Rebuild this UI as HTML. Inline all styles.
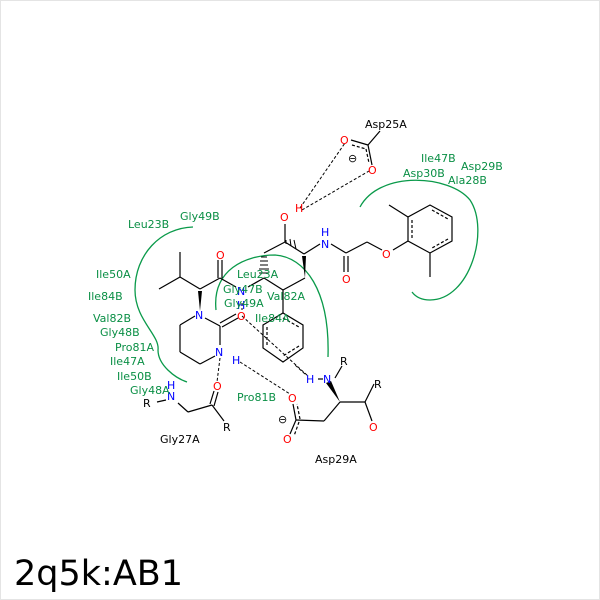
<!DOCTYPE html>
<html><head><meta charset="utf-8"><style>
body{margin:0;background:#fff}
svg{display:block}
text{font-family:"DejaVu Sans","Liberation Sans",sans-serif;font-size:11px}
.g{fill:#0a8f45}
.k{fill:#000}
.b{fill:#0000ff}
.r{fill:#ff0000}
</style></head><body>
<svg width="600" height="600" viewBox="0 0 600 600">
<rect x="0.5" y="0.5" width="599" height="599" fill="#fff" stroke="#e4e4e4"/>
<g fill="none" stroke="#0a9a4a" stroke-width="1.3">
<path d="M193,227 C160,228 135,255 135,290 C135,320 160,335 158,350 C158,365 175,378 187,382"/>
<path d="M216,310 C212,270 245,255 275,255 C305,257 330,290 328,357"/>
<path d="M360,207 C380,170 450,175 470,200 C490,230 470,300 430,300 C420,300 415,296 412,292"/>
</g>
<g stroke="#000" stroke-width="1.2" fill="none">
<line x1="380" y1="131" x2="368" y2="145"/>
<line x1="368" y1="145" x2="351" y2="140"/>
<line x1="368" y1="145" x2="372" y2="165"/>
<path d="M352,145 L366,149 M366,149 L369,163" stroke-dasharray="3,2"/>
<line x1="285" y1="224" x2="285" y2="242"/>
<line x1="285" y1="242" x2="264" y2="253"/>
<line x1="285" y1="242" x2="304" y2="254"/>
<line x1="304" y1="254" x2="320" y2="244"/>
<line x1="331" y1="244" x2="346" y2="253"/>
<line x1="344" y1="256" x2="344" y2="272"/><line x1="348" y1="256" x2="348" y2="272"/>
<line x1="346" y1="253" x2="367" y2="242"/>
<line x1="367" y1="242" x2="382" y2="250"/>
<line x1="393" y1="250" x2="408" y2="241"/>
<polygon points="408,241 408,217 430,205 452,217 452,241 430,253"/>
<path d="M412,238 L412,219 M432,210 L448,219 M448,239 L432,248" stroke-dasharray="3,2"/>
<line x1="408" y1="217" x2="389" y2="205"/>
<line x1="430" y1="253" x2="430" y2="277"/>
<line x1="180" y1="252" x2="180" y2="277"/>
<line x1="180" y1="277" x2="159" y2="289"/>
<line x1="180" y1="277" x2="200" y2="289"/>
<line x1="200" y1="289" x2="220" y2="278"/>
<line x1="218" y1="260" x2="218" y2="278"/><line x1="222" y1="260" x2="222" y2="278"/>
<line x1="220" y1="278" x2="236" y2="287"/>
<line x1="248" y1="287" x2="264" y2="278"/>
<line x1="264" y1="278" x2="283" y2="290"/>
<line x1="283" y1="290" x2="305" y2="278"/>
<line x1="283" y1="290" x2="283" y2="313"/>
<polygon points="263,325 283,313 303,325 303,348 283,362 263,348"/>
<path d="M267,327 L267,346 M283,318 L299,327 M299,346 L283,356" stroke-dasharray="3,2"/>
<line x1="205" y1="318" x2="220" y2="326"/>
<line x1="220" y1="323" x2="236" y2="314"/><line x1="222" y1="327" x2="238" y2="318"/>
<line x1="220" y1="326" x2="220" y2="345"/>
<line x1="215" y1="356" x2="200" y2="364"/>
<line x1="200" y1="364" x2="180" y2="352"/>
<line x1="180" y1="352" x2="180" y2="325"/>
<line x1="180" y1="325" x2="195" y2="316"/>
<line x1="157" y1="402" x2="166" y2="400"/>
<line x1="178" y1="403" x2="188" y2="412"/>
<line x1="188" y1="412" x2="212" y2="405"/>
<line x1="210" y1="404" x2="214" y2="391"/><line x1="214" y1="406" x2="218" y2="392"/>
<line x1="212" y1="405" x2="224" y2="421"/>
<line x1="296" y1="420" x2="324" y2="421"/>
<line x1="324" y1="421" x2="340" y2="402"/>
<line x1="340" y1="402" x2="365" y2="402"/>
<line x1="365" y1="402" x2="374" y2="384"/>
<line x1="365" y1="402" x2="372" y2="421"/>
<line x1="335" y1="378" x2="342" y2="366"/>
<path d="M296,420 L293,404 M296,420 L290,434" />
<path d="M300,419 L297,404 M299,422 L294,436" stroke-dasharray="3,2"/>
<path d="M300,208 L345,143 M302,210 L369,171 M242,316 L308,376 M220,358 L217,382 M240,362 L290,394 M242,303 L242,310 M305,374 L295,365" stroke-dasharray="3,2" stroke-width="1"/>
<line x1="318" y1="379" x2="323" y2="379"/>
</g>
<g fill="#000">
<polygon points="305,278 302,256 306,256"/>
<polygon points="200,311 198,291 202,291"/>
<polygon points="340,402 326,383 331,381"/>
</g>
<g stroke="#000" stroke-width="1">
<line x1="261" y1="257" x2="267" y2="257"/><line x1="260" y1="261" x2="268" y2="261"/><line x1="260" y1="265" x2="268" y2="265"/><line x1="259" y1="269" x2="269" y2="269"/><line x1="259" y1="273" x2="269" y2="273"/>
<line x1="286" y1="240" x2="286" y2="244"/><line x1="290" y1="239" x2="291" y2="246"/><line x1="294" y1="240" x2="296" y2="249"/>
</g>
<text x="365" y="128" class="k">Asp25A</text>
<text x="340" y="144" class="r">O</text>
<text x="368" y="174" class="r">O</text>
<text x="348" y="162" class="k" font-size="12">⊖</text>
<text x="280" y="221" class="r">O</text>
<text x="295" y="212" class="r">H</text>
<text x="321" y="248" class="b">N</text>
<text x="321" y="236" class="b">H</text>
<text x="342" y="283" class="r">O</text>
<text x="382" y="258" class="r">O</text>
<text x="216" y="259" class="r">O</text>
<text x="237" y="295" class="b">N</text>
<text x="237" y="309" class="b">H</text>
<text x="195" y="319" class="b">N</text>
<text x="237" y="320" class="r">O</text>
<text x="215" y="356" class="b">N</text>
<text x="232" y="364" class="b">H</text>
<text x="167" y="389" class="b">H</text>
<text x="167" y="400" class="b">N</text>
<text x="143" y="407" class="k">R</text>
<text x="213" y="390" class="r">O</text>
<text x="223" y="431" class="k">R</text>
<text x="160" y="443" class="k">Gly27A</text>
<text x="288" y="402" class="r">O</text>
<text x="283" y="443" class="r">O</text>
<text x="278" y="423" class="k" font-size="12">⊖</text>
<text x="369" y="431" class="r">O</text>
<text x="374" y="388" class="k">R</text>
<text x="340" y="365" class="k">R</text>
<text x="306" y="383" class="b">H</text>
<text x="323" y="383" class="b">N</text>
<text x="315" y="463" class="k">Asp29A</text>
<g class="g">
<text x="180" y="220">Gly49B</text>
<text x="128" y="228">Leu23B</text>
<text x="96" y="278">Ile50A</text>
<text x="88" y="300">Ile84B</text>
<text x="93" y="322">Val82B</text>
<text x="100" y="336">Gly48B</text>
<text x="115" y="351">Pro81A</text>
<text x="110" y="365">Ile47A</text>
<text x="117" y="380">Ile50B</text>
<text x="130" y="394">Gly48A</text>
<text x="237" y="278">Leu23A</text>
<text x="223" y="293">Gly47B</text>
<text x="267" y="300">Val82A</text>
<text x="224" y="307">Gly49A</text>
<text x="255" y="322">Ile84A</text>
<text x="237" y="401">Pro81B</text>
<text x="421" y="162">Ile47B</text>
<text x="461" y="170">Asp29B</text>
<text x="403" y="177">Asp30B</text>
<text x="448" y="184">Ala28B</text>
</g>
<text x="14" y="585" style="font-size:35px" class="k">2q5k:AB1</text>
</svg>
</body></html>
